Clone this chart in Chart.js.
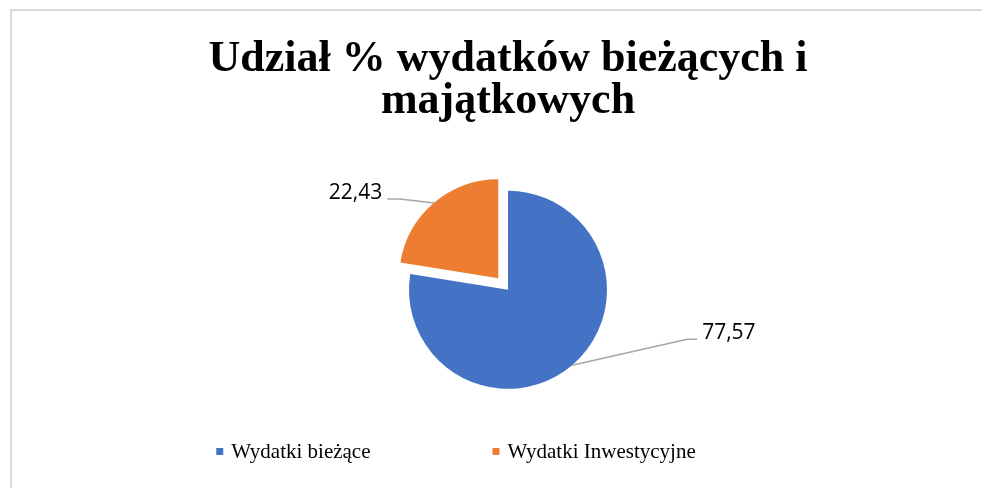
<!DOCTYPE html>
<html>
<head>
<meta charset="utf-8">
<style>
  html, body { margin: 0; padding: 0; background: #fff; }
  canvas { display: block; }
</style>
<script src="https://cdn.jsdelivr.net/npm/chart.js@4"></script>
</head>
<body>
<canvas id="chart" width="982" height="488"></canvas>
<script>
const categories = ['Wydatki bieżące', 'Wydatki Inwestycyjne'];
const shares = [77.57, 22.43];
const sliceColors = ['#4472C4', '#ED7D31'];

// leader line from slice edge to label: elbow offset and short horizontal tail
const leaders = [
  { dx: 115, dy: -26, tail: 10 },
  { dx: -34, dy: -4, tail: -13 }
];

const fmt = v => v.toFixed(2).replace('.', ',');

// light grey frame like the Excel chart area
const frame = {
  id: 'frame',
  beforeDraw(chart) {
    const c = chart.ctx;
    c.save();
    c.fillStyle = '#fff';
    c.fillRect(0, 0, chart.width, chart.height);
    c.fillStyle = '#d9d9d9';
    c.fillRect(10, 9, chart.width - 10, 2);
    c.fillRect(10, 9, 2, chart.height - 9);
    c.restore();
  }
};

// data labels with leader lines
const pieLabels = {
  id: 'pieLabels',
  afterDatasetsDraw(chart) {
    const c = chart.ctx;
    const meta = chart.getDatasetMeta(0);
    c.save();
    meta.data.forEach((arc, i) => {
      const p = arc.getProps(['x', 'y', 'startAngle', 'endAngle', 'outerRadius'], true);
      const mid = (p.startAngle + p.endAngle) / 2;
      // chart.js moves an exploded arc by offset / 4
      const r = p.outerRadius + (arc.options.offset || 0) / 4;
      const x0 = p.x + Math.cos(mid) * r;
      const y0 = p.y + Math.sin(mid) * r;
      const l = leaders[i];
      const x1 = x0 + l.dx, y1 = y0 + l.dy;
      const x2 = x1 + l.tail;
      c.strokeStyle = '#a6a6a6';
      c.lineWidth = 1.5;
      c.beginPath();
      c.moveTo(x0, y0);
      c.lineTo(x1, y1);
      c.lineTo(x2, y1);
      c.stroke();
      c.fillStyle = '#000';
      c.font = '21px "Open Sans"';
      c.textBaseline = 'alphabetic';
      c.textAlign = l.tail > 0 ? 'left' : 'right';
      c.fillText(fmt(shares[i]), x2 + Math.sign(l.tail) * 5, y1);
    });
    c.restore();
  }
};

// bottom legend with wide spacing between entries
const wideLegend = {
  id: 'wideLegend',
  afterDraw(chart) {
    const c = chart.ctx;
    c.save();
    c.font = '21px "Liberation Serif"';
    c.textBaseline = 'alphabetic';
    c.textAlign = 'left';
    const box = 7, gap = 8, spacing = 122;
    const widths = categories.map(t => c.measureText(t).width);
    const total = widths.reduce((s, w) => s + box + gap + w, 0) + spacing * (categories.length - 1);
    let x = 456 - total / 2;
    const base = 458;
    categories.forEach((t, i) => {
      c.fillStyle = sliceColors[i];
      c.fillRect(x, base - 10, box, box);
      c.fillStyle = '#000';
      c.fillText(t, x + box + gap, base);
      x += box + gap + widths[i] + spacing;
    });
    c.restore();
  }
};

new Chart(document.getElementById('chart'), {
  type: 'pie',
  data: {
    labels: categories,
    datasets: [{
      data: shares,
      backgroundColor: sliceColors,
      borderWidth: 0,
      offset: [0, 60]
    }]
  },
  options: {
    responsive: false,
    animation: false,
    events: [],
    radius: 99,
    layout: { padding: { left: 34, bottom: 41 } },
    plugins: {
      legend: { display: false },
      tooltip: { enabled: false },
      title: {
        display: true,
        text: ['Udział % wydatków bieżących i', 'majątkowych'],
        color: '#000',
        font: { family: '"Liberation Serif"', size: 44, weight: 'bold', lineHeight: 0.95 },
        padding: { top: 39, bottom: 10 }
      }
    }
  },
  plugins: [frame, pieLabels, wideLegend]
});
</script>
</body>
</html>
